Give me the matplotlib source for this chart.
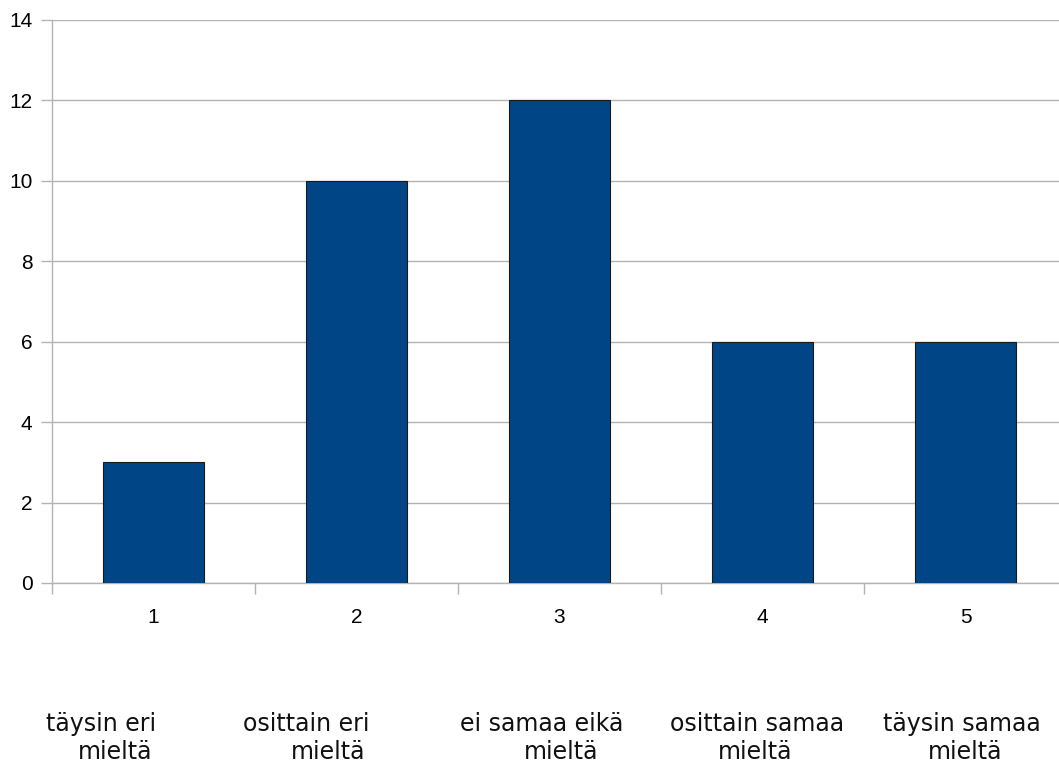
import numpy as np
import matplotlib.pyplot as plt
from matplotlib.transforms import blended_transform_factory

# answer counts per scale point
scale = ["1", "2", "3", "4", "5"]
counts = [3, 10, 12, 6, 6]
# verbal meaning of each scale point (two lines each)
meaning_top = ["täysin eri", "osittain eri", "ei samaa eikä", "osittain samaa", "täysin samaa"]
meaning_bottom = ["mieltä", "mieltä", "mieltä", "mieltä", "mieltä"]

# horizontal nudges of the caption lines, in category units
top_shift = [-0.26, -0.246, -0.089, -0.025, -0.02]
bottom_shift = [-0.187, -0.138, 0.01, -0.034, 0.0]

grey = "#b3b3b3"

fig = plt.figure(figsize=(10.59, 7.65), dpi=100)
ax = fig.add_axes([52 / 1059, 1 - 583 / 765, 1015 / 1059, 563 / 765])

x = np.arange(len(scale))
ax.bar(x, counts, width=0.5, color="#004586", edgecolor="#1a1a1a", linewidth=0.8, zorder=3)

ax.set_xlim(-0.5, len(scale) - 0.5)
ax.set_ylim(0, 14)
ax.set_yticks(range(0, 15, 2))
ax.set_xticks(x)
ax.set_xticklabels(scale)
ax.set_xticks(np.arange(-0.5, len(scale), 1.0), minor=True)

ax.yaxis.grid(True, color=grey, linewidth=1.0, zorder=0)
for side in ["top", "right"]:
    ax.spines[side].set_visible(False)
for side in ["left", "bottom"]:
    ax.spines[side].set_color(grey)
    ax.spines[side].set_linewidth(1.0)

ax.tick_params(axis="y", length=8, width=1.0, color=grey, pad=6,
               labelsize=15, labelfontfamily="Liberation Sans")
ax.tick_params(axis="x", which="major", length=0, pad=18,
               labelsize=15, labelfontfamily="Liberation Sans")
ax.tick_params(axis="x", which="minor", length=8, width=1.0, color=grey)

trans = blended_transform_factory(ax.transData, fig.transFigure)
for i in range(len(scale)):
    ax.text(x[i] + top_shift[i], 1 - 724 / 765, meaning_top[i], transform=trans,
            ha="center", va="center", fontsize=17, family="DejaVu Sans",
            color="#111111", clip_on=False)
    ax.text(x[i] + bottom_shift[i], 1 - 752 / 765, meaning_bottom[i], transform=trans,
            ha="center", va="center", fontsize=17, family="DejaVu Sans",
            color="#111111", clip_on=False)

fig.savefig("out.png", dpi=100)
